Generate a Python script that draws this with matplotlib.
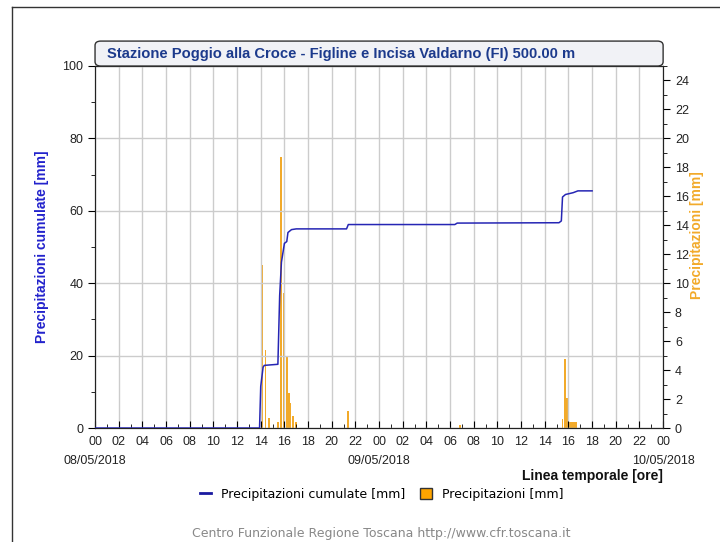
import matplotlib
matplotlib.use('Agg')
import matplotlib.pyplot as plt
from matplotlib.patches import FancyBboxPatch, Patch
from matplotlib.lines import Line2D
from matplotlib.ticker import MultipleLocator
import matplotlib.transforms as mtrans

# ore dalle 00 del 08/05/2018
cum_ore = [0, 13.9, 14.0, 14.2, 14.3, 15.45, 15.6, 15.75, 16.0, 16.2, 16.3, 16.6, 17.0,
           21.25, 21.4, 30.4, 30.6, 39.2, 39.4, 39.5, 39.75, 40.4, 40.8, 42.0]
cum_mm = [0, 0, 11.5, 16.8, 17.3, 17.6, 36.6, 45.8, 51.0, 51.5, 54.0, 54.8, 55.0,
          55.0, 56.2, 56.2, 56.6, 56.7, 57.2, 63.8, 64.5, 65.0, 65.5, 65.5]

prec_ore = [14.1, 14.4, 14.7, 15.45, 15.7, 15.95, 16.2, 16.4, 16.5, 16.7, 17.0,
            21.4, 30.8,
            39.5, 39.7, 39.9, 40.05, 40.2, 40.35, 40.5, 40.65]
prec_mm = [11.25, 5.4, 0.66, 0.4, 18.7, 9.3, 5.0, 2.45, 1.75, 0.8, 0.4,
           1.2, 0.2,
           0.65, 4.8, 2.06, 0.4, 0.4, 0.4, 0.4, 0.4]

date_ore = [0, 24, 48]
date = ['08/05/2018', '09/05/2018', '10/05/2018']

blu = '#2626b4'
arancio = '#f2aa2a'

fig = plt.figure(figsize=(7.2, 5.42), dpi=100)
ax = fig.add_axes([0.132, 0.2103, 0.789, 0.668])
ax2 = ax.twinx()
ax.set_zorder(ax2.get_zorder() + 1)
ax.patch.set_visible(False)

ax2.bar(prec_ore, prec_mm, width=0.16, color=arancio, zorder=2)
ax.plot(cum_ore, cum_mm, color=blu, lw=1.1, zorder=3)

ax.set_xlim(0, 48)
ax.set_ylim(0, 100)
ax2.set_ylim(0, 25)

ax.xaxis.set_major_locator(MultipleLocator(2))
ax.xaxis.set_minor_locator(MultipleLocator(1))
ax.yaxis.set_major_locator(MultipleLocator(20))
ax.yaxis.set_minor_locator(MultipleLocator(10))
ax2.yaxis.set_major_locator(MultipleLocator(2))
ax2.yaxis.set_minor_locator(MultipleLocator(1))

ax.set_xticks(range(0, 49, 2))
ax.set_xticklabels(['%02d' % (h % 24) for h in range(0, 49, 2)],
                   fontsize=9, family='Liberation Sans', color='#222222')
ax.tick_params(axis='x', which='major', direction='in', length=5, pad=6)
ax.tick_params(axis='x', which='minor', direction='in', length=3)
ax.tick_params(axis='y', which='major', direction='out', length=5, labelsize=9)
ax.tick_params(axis='y', which='minor', direction='out', length=3)
ax2.tick_params(axis='y', which='major', direction='out', length=5, labelsize=9)
ax2.tick_params(axis='y', which='minor', direction='out', length=3)
for a in (ax, ax2):
    for t in a.get_yticklabels():
        t.set_family('Liberation Sans')
        t.set_color('#222222')

# date sotto le ore
tr = mtrans.blended_transform_factory(ax.transData, fig.transFigure)
for h, d in zip(date_ore, date):
    fig.text(h, 1 - 461 / 542, d, transform=tr, ha='center', va='center',
             fontsize=9, family='Liberation Sans', color='#222222')

ax.grid(True, which='major', color='#cccccc', lw=1)
ax.set_axisbelow(True)
for sp in ax.spines.values():
    sp.set_color('#222222')
for sp in ax2.spines.values():
    sp.set_color('#222222')

# box del titolo
box = FancyBboxPatch((0.132, 0.8782), 0.789, 0.046, boxstyle='round,pad=0,rounding_size=0.008',
                     transform=fig.transFigure, facecolor='#f1f2f6', edgecolor='#333333', lw=1)
fig.patches.append(box)
fig.text(0.1486, 0.901, 'Stazione Poggio alla Croce - Figline e Incisa Valdarno (FI) 500.00 m',
         fontsize=10.6, fontweight='bold', color='#1c3a8c', va='center', ha='left',
         family='Liberation Sans')

fig.text(0.058, 0.5443, 'Precipitazioni cumulate [mm]', rotation=90, ha='center', va='center',
         fontsize=10, fontweight='bold', color='#2222cc', family='Liberation Sans')
fig.text(0.968, 0.566, 'Precipitazioni [mm]', rotation=90, ha='center', va='center',
         fontsize=10, fontweight='bold', color=arancio, family='Liberation Sans')

fig.text(0.921, 0.122, 'Linea temporale [ore]', ha='right', va='center',
         fontsize=10, fontweight='bold', color='#111111', family='Liberation Sans')

handles = [Line2D([0], [0], color='#1a1aa0', lw=2),
           Patch(facecolor='#ffa500', edgecolor='#333333')]
fig.legend(handles, ['Precipitazioni cumulate [mm]', 'Precipitazioni [mm]'],
           loc='center', bbox_to_anchor=(0.53, 0.088), ncol=2, frameon=False,
           fontsize=9, handlelength=0.9, handleheight=0.9, columnspacing=1.2)

fig.text(0.53, 0.0166, 'Centro Funzionale Regione Toscana http://www.cfr.toscana.it',
         ha='center', va='center', fontsize=9, color='#888888')

# cornice
fig.add_artist(Line2D([12 / 720, 12 / 720], [0, 1 - 7 / 542], transform=fig.transFigure,
                      color='#333333', lw=1))
fig.add_artist(Line2D([12 / 720, 1], [1 - 7 / 542, 1 - 7 / 542], transform=fig.transFigure,
                      color='#333333', lw=1))

fig.savefig('out.png', dpi=100)
